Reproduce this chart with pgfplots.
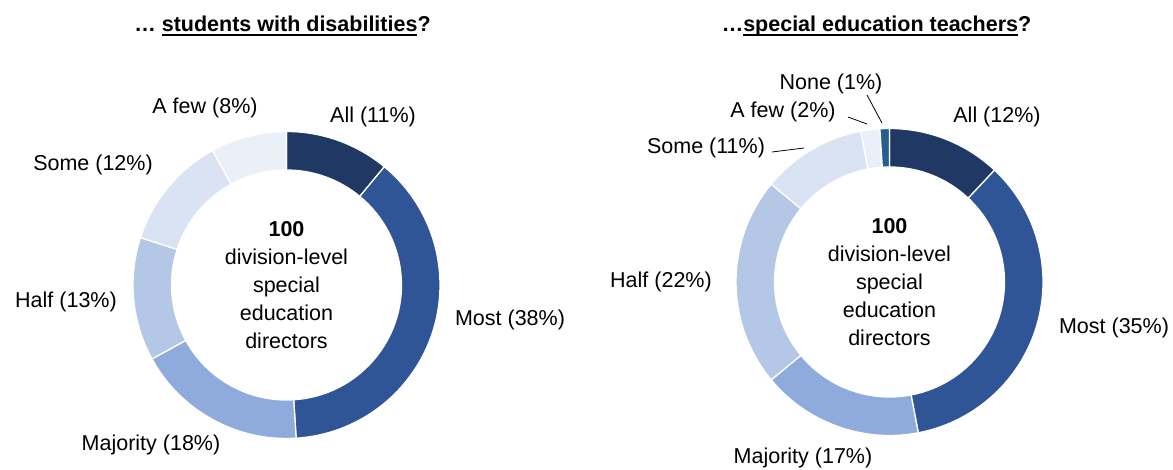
\documentclass[border=0pt]{standalone}
\usepackage{pgfplots}
\pgfplotsset{compat=1.18}
\usepackage{pgfplotstable}
\usepackage{fontspec}
\setmainfont{Liberation Sans}

\definecolor{cAll}{HTML}{203864}
\definecolor{cMost}{HTML}{2F5597}
\definecolor{cMaj}{HTML}{8FAADC}
\definecolor{cHalf}{HTML}{B4C7E7}
\definecolor{cSome}{HTML}{DAE3F3}
\definecolor{cFew}{HTML}{EAEFF8}
\definecolor{cNone}{HTML}{255E91}

\pgfplotstableread{
label value col
All 11 cAll
Most 38 cMost
Majority 18 cMaj
Half 13 cHalf
Some 12 cSome
Afew 8 cFew
}\leftdata

\pgfplotstableread{
label value col
All 12 cAll
Most 35 cMost
Majority 17 cMaj
Half 22 cHalf
Some 11 cSome
Afew 2 cFew
None 1 cNone
}\rightdata

\newcommand\donut[3]{%
  \pgfplotstablegetrowsof{#1}%
  \pgfmathtruncatemacro\lastrow{\pgfplotsretval-1}%
  \def\cum{0}%
  \pgfplotsforeachungrouped \i in {0,...,\lastrow}{%
    \pgfplotstablegetelem{\i}{value}\of#1\let\val\pgfplotsretval
    \pgfplotstablegetelem{\i}{col}\of#1\let\col\pgfplotsretval
    \pgfmathsetmacro\aA{90-3.6*\cum}%
    \pgfmathsetmacro\aB{90-3.6*(\cum+\val)}%
    \path[fill=\col, draw=white, line width=1.3bp, shift={(axis cs:#2,#3)}]
      (\aA:153.5bp) arc[start angle=\aA, end angle=\aB, radius=153.5bp]
      -- (\aB:115bp) arc[start angle=\aB, end angle=\aA, radius=115bp] -- cycle;
    \pgfmathsetmacro\cum{\cum+\val}%
  }%
}

\newcommand\ul[1]{\setbox0\hbox{#1}\rlap{\rule[-4bp]{\wd0}{2bp}}\box0}

\begin{document}
\begin{tikzpicture}[every node/.style={font=\fontsize{21.5bp}{28bp}\selectfont, inner sep=0pt, text=black}]
\begin{axis}[hide axis, scale only axis, width=1173bp, height=469bp,
  xmin=0, xmax=1173, ymin=0, ymax=469, clip=false]
\path (axis cs:0,0) rectangle (axis cs:1173,469);
\pgfplotsextra{\donut{\leftdata}{286.5}{184}\donut{\rightdata}{889.5}{187}}

% titles
\node[anchor=base, font=\fontsize{21.5bp}{28bp}\selectfont\bfseries] at (axis cs:282.5,437) {… \ul{students with disabilities}?};
\node[anchor=base, font=\fontsize{21.5bp}{28bp}\selectfont\bfseries] at (axis cs:876.5,437) {…\ul{special education teachers}?};

% centre text
\node[align=center] at (axis cs:286.5,184) {\textbf{100}\\division-level\\special\\education\\directors};
\node[align=center] at (axis cs:889.5,187) {\textbf{100}\\division-level\\special\\education\\directors};

% left labels
\node at (axis cs:373,352) {All (11\%)};
\node at (axis cs:510,149) {Most (38\%)};
\node at (axis cs:151,24) {Majority (18\%)};
\node at (axis cs:66,167) {Half (13\%)};
\node at (axis cs:93,304) {Some (12\%)};
\node at (axis cs:205,361) {A few (8\%)};

% right labels
\node at (axis cs:997,352) {All (12\%)};
\node at (axis cs:1114,141) {Most (35\%)};
\node at (axis cs:803,11) {Majority (17\%)};
\node at (axis cs:661,187) {Half (22\%)};
\node at (axis cs:706,321) {Some (11\%)};
\node at (axis cs:783,357) {A few (2\%)};
\node at (axis cs:831,385) {None (1\%)};

\draw[black, line width=0.8bp] (axis cs:772,317) -- (axis cs:804,321);
\draw[black, line width=0.8bp] (axis cs:848,352) -- (axis cs:867,345);
\draw[black, line width=0.8bp] (axis cs:867,374) -- (axis cs:882,346);
\end{axis}
\end{tikzpicture}
\end{document}
